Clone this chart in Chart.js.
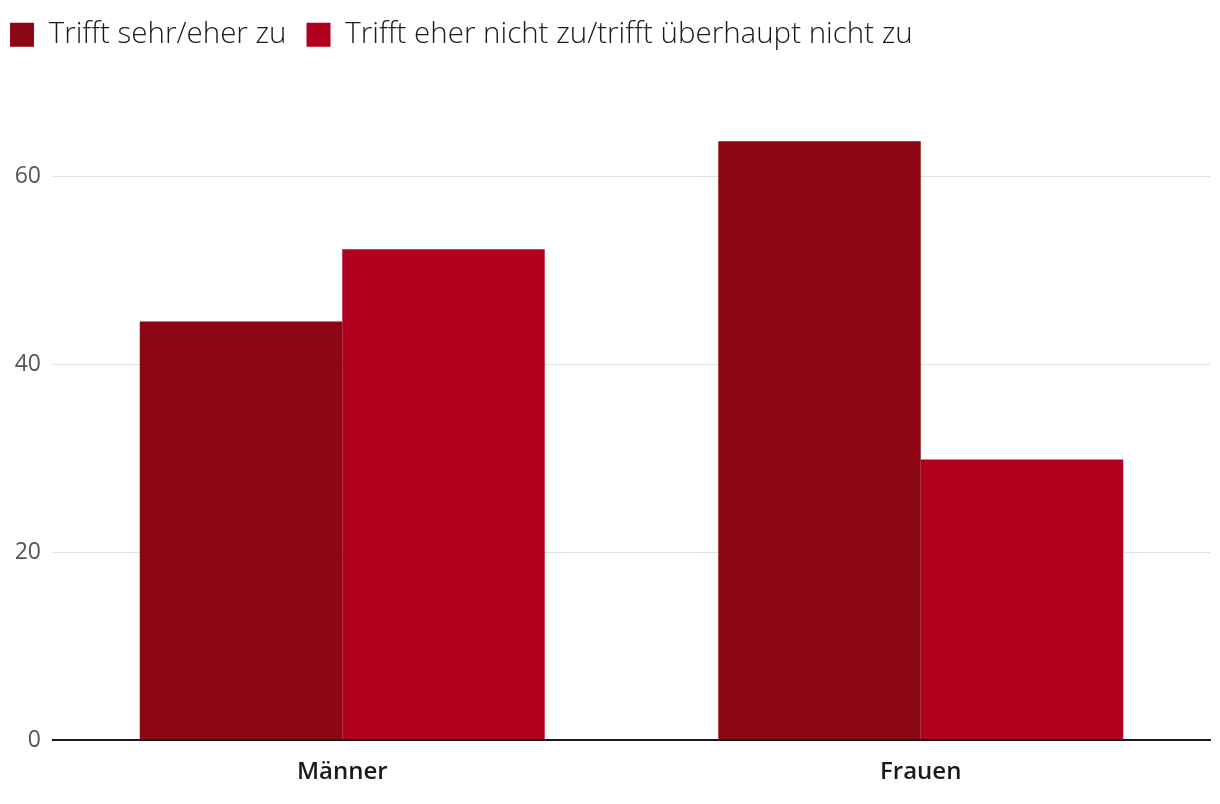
<!DOCTYPE html>
<html>
<head>
<meta charset="utf-8">
<script src="https://cdn.jsdelivr.net/npm/chart.js@4"></script>
<style>
  html, body { margin: 0; padding: 0; background: #fff; }
  #wrap { width: 1220px; height: 804px; }
</style>
</head>
<body>
<div id="wrap"><canvas id="chart"></canvas></div>
<script>
// data
const categories = ['Männer', 'Frauen'];
const seriesNames = ['Trifft sehr/eher zu', 'Trifft eher nicht zu/trifft überhaupt nicht zu'];
const agreeValues = [44.6, 63.8];
const disagreeValues = [52.3, 29.9];
const yTicks = [0, 20, 40, 60];

const ctx = document.getElementById('chart').getContext('2d');
const chart = new Chart(ctx, {
    type: 'bar',
    data: {
        labels: categories,
        datasets: [{
            label: seriesNames[0],
            data: agreeValues,
            backgroundColor: '#8c0714',
            borderWidth: 0
        }, {
            label: seriesNames[1],
            data: disagreeValues,
            backgroundColor: '#b0001e',
            borderWidth: 0
        }]
    },
    options: {
        responsive: true,
        maintainAspectRatio: false,
        animation: false,
        layout: { padding: { left: -10, right: 10, top: 0, bottom: 7 } },
        datasets: {
            bar: { categoryPercentage: 0.7, barPercentage: 1.0 }
        },
        plugins: {
            tooltip: { enabled: false },
            legend: {
                align: 'start',
                labels: {
                    boxWidth: 24,
                    boxHeight: 24,
                    padding: 20,
                    color: '#1a1a1a',
                    font: { family: 'Open Sans', size: 29.5, weight: '300' }
                }
            }
        },
        scales: {
            x: {
                grid: { display: false },
                border: { display: true, color: '#1a1a1a', width: 2 },
                ticks: {
                    color: '#1a1a1a',
                    padding: 10,
                    font: { family: 'Open Sans', size: 24, weight: '600' }
                }
            },
            y: {
                min: 0,
                max: 72.5,
                afterBuildTicks: (axis) => {
                    axis.ticks = yTicks.map(v => ({ value: v }));
                },
                afterFit: (axis) => { axis.width = 63; },
                border: { display: false },
                grid: {
                    drawTicks: false,
                    color: (c) => c.tick && c.tick.value === 0 ? '#1a1a1a' : '#e0e0e0',
                    lineWidth: (c) => c.tick && c.tick.value === 0 ? 2 : 1
                },
                ticks: {
                    color: '#555',
                    padding: 12,
                    font: { family: 'Open Sans', size: 23, weight: '400' }
                }
            }
        }
    }
});
</script>
</body>
</html>
